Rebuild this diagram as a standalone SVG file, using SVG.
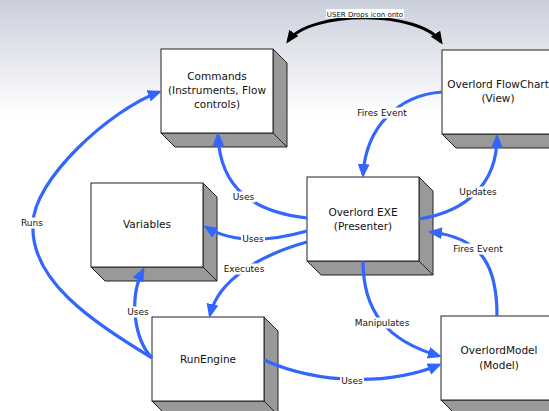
<svg xmlns="http://www.w3.org/2000/svg" width="549" height="411" viewBox="0 0 549 411">
<defs>
<linearGradient id="bg" x1="0" y1="0" x2="0" y2="411" gradientUnits="userSpaceOnUse">
<stop offset="0" stop-color="#cbcfdc"/>
<stop offset="0.28" stop-color="#ffffff"/>
<stop offset="1" stop-color="#ffffff"/>
</linearGradient>
<marker id="ab" markerUnits="userSpaceOnUse" markerWidth="14" markerHeight="12" refX="11" refY="6" orient="auto-start-reverse" viewBox="0 0 14 12">
<path d="M0,0 L14,6 L0,12 z" fill="#3366ff"/>
</marker>
<marker id="ak" markerUnits="userSpaceOnUse" markerWidth="13" markerHeight="11" refX="10" refY="5.5" orient="auto-start-reverse" viewBox="0 0 13 11">
<path d="M0,0 L13,5.5 L0,11 z" fill="#000"/>
</marker>
</defs>
<style>
.front{fill:#fff;stroke:#222;stroke-width:1}
.side{fill:#999;stroke:#222;stroke-width:1;stroke-linejoin:miter}
.nt{font-family:"DejaVu Sans",Verdana,sans-serif;font-size:10.5px;fill:#111;text-anchor:middle}
.lt{font-family:"DejaVu Sans",Verdana,sans-serif;font-size:9px;fill:#111;text-anchor:middle}
.lb{fill:#fff}
.c{fill:none;stroke:#3366ff;stroke-width:3.2;marker-end:url(#ab)}
.cn{fill:none;stroke:#3366ff;stroke-width:3.2}
</style>
<rect x="0" y="0" width="549" height="411" fill="url(#bg)"/>

<g id="commands">
<polygon class="side" points="273,49 287,63 287,147 273,133"/>
<polygon class="side" points="161,133 273,133 287,147 175,147"/>
<rect class="front" x="161" y="49" width="112" height="84"/>
<text class="nt" x="217" y="80">Commands</text>
<text class="nt" x="217" y="94">(Instruments, Flow</text>
<text class="nt" x="217" y="108">controls)</text>
</g>

<g id="flowchart">
<polygon class="side" points="554,50 568,64 568,148 554,134"/>
<polygon class="side" points="442,134 554,134 568,148 456,148"/>
<rect class="front" x="442" y="50" width="112" height="84"/>
<text class="nt" x="498" y="88">Overlord FlowChart</text>
<text class="nt" x="498" y="102">(View)</text>
</g>

<g id="variables">
<polygon class="side" points="203,183 217,197 217,281 203,267"/>
<polygon class="side" points="91,267 203,267 217,281 105,281"/>
<rect class="front" x="91" y="183" width="112" height="84"/>
<text class="nt" x="147" y="228">Variables</text>
</g>

<g id="exe">
<polygon class="side" points="419,177 433,191 433,275 419,261"/>
<polygon class="side" points="307,261 419,261 433,275 321,275"/>
<rect class="front" x="307" y="177" width="112" height="84"/>
<text class="nt" x="363" y="216">Overlord EXE</text>
<text class="nt" x="363" y="230">(Presenter)</text>
</g>

<g id="runengine">
<polygon class="side" points="264,317 278,331 278,415 264,401"/>
<polygon class="side" points="152,401 264,401 278,415 166,415"/>
<rect class="front" x="152" y="317" width="112" height="84"/>
<text class="nt" x="208" y="363">RunEngine</text>
</g>

<g id="model">
<polygon class="side" points="553,316 567,330 567,414 553,400"/>
<polygon class="side" points="441,400 553,400 567,414 455,414"/>
<rect class="front" x="441" y="316" width="112" height="84"/>
<text class="nt" x="499" y="354">OverlordModel</text>
<text class="nt" x="499" y="369">(Model)</text>
</g>

<g id="connectors">
<path d="M288,41 C310,10 420,10 441,42" fill="none" stroke="#000" stroke-width="3" marker-start="url(#ak)" marker-end="url(#ak)"/>
<path class="c" d="M442,92 C400,95 366,125 363,175"/>
<path class="c" d="M307,218 C255,212 220,190 218,135"/>
<path class="c" d="M307,231 C275,240 235,245 206,227"/>
<path class="c" d="M307,242 C260,255 218,280 210,315"/>
<path class="c" d="M152,358 C90,320 30,280 33,224 C33,180 110,110 159,92"/>
<path class="c" d="M152,358 C135,340 128,300 143,270"/>
<path class="c" d="M264,360 C320,385 390,385 439,365"/>
<path class="c" d="M363,261 C363,310 385,340 439,356"/>
<path class="c" d="M419,219 C465,212 497,185 497,137"/>
<path class="c" d="M497,316 C497,270 485,238 431,232"/>

<rect class="lb" x="326" y="9" width="78" height="9"/>
<text x="365" y="16.5" font-family="DejaVu Sans, Verdana, sans-serif" font-size="7" text-anchor="middle" fill="#111">USER Drops icon onto</text>
<rect class="lb" x="356" y="107.5" width="52" height="11"/>
<text class="lt" x="382" y="116">Fires Event</text>
<rect class="lb" x="231.5" y="191.5" width="24" height="11"/>
<text class="lt" x="243.5" y="200">Uses</text>
<rect class="lb" x="241" y="233.5" width="24" height="11"/>
<text class="lt" x="253" y="242">Uses</text>
<rect class="lb" x="222.5" y="263.5" width="43" height="11"/>
<text class="lt" x="244" y="272">Executes</text>
<rect class="lb" x="20" y="217.5" width="24" height="11"/>
<text class="lt" x="32" y="226">Runs</text>
<rect class="lb" x="126" y="306.5" width="24" height="11"/>
<text class="lt" x="138" y="315">Uses</text>
<rect class="lb" x="353.5" y="317.5" width="57" height="11"/>
<text class="lt" x="382" y="326">Manipulates</text>
<rect class="lb" x="340" y="375.5" width="24" height="11"/>
<text class="lt" x="352" y="384">Uses</text>
<rect class="lb" x="458.5" y="186.5" width="39" height="11"/>
<text class="lt" x="478" y="195">Updates</text>
<rect class="lb" x="452" y="243.5" width="52" height="11"/>
<text class="lt" x="478" y="252">Fires Event</text>
</g>
</svg>
